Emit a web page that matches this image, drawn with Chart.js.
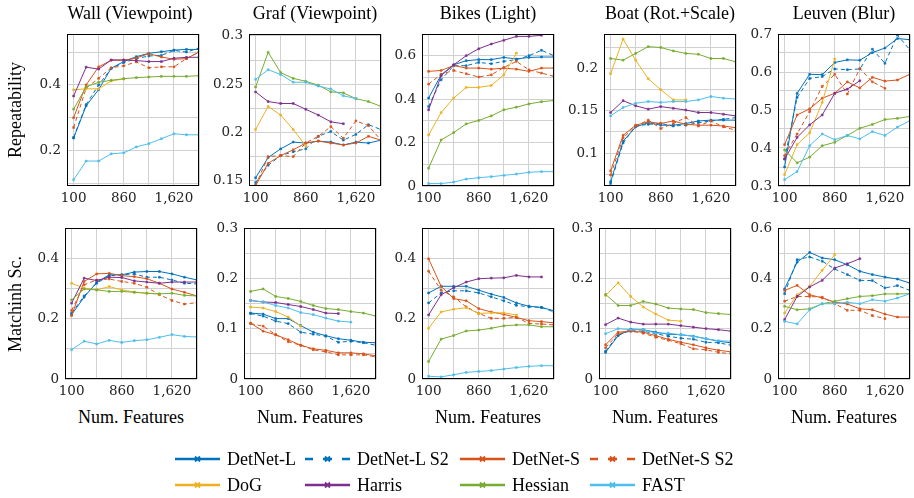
<!DOCTYPE html>
<html>
<head>
<meta charset="utf-8">
<script src="https://cdn.jsdelivr.net/npm/chart.js@4.4.1/dist/chart.umd.min.js"></script>
<style>
  html, body { margin: 0; padding: 0; background: #fff; }
  body { width: 914px; height: 498px; position: relative; overflow: hidden; font-family: "Liberation Serif", serif; color: #000; }
  canvas { position: absolute; }
  .txt { position: absolute; white-space: nowrap; font-size: 18px; line-height: 1; }
  .rot { transform: translate(-50%, -50%) rotate(-90deg); }
  .ctr { transform: translate(-50%, -50%); }
  .leg { position: absolute; display: flex; align-items: center; font-size: 18px; line-height: 1; white-space: nowrap; }
  .leg svg { margin-right: 7px; }
</style>
</head>
<body>
<script>
// x values (number of features) shared by every panel
const numFeatures = [100, 290, 480, 670, 860, 1050, 1240, 1430, 1620, 1810, 2000];
const xGrid = [100, 480, 860, 1240, 1620, 2000];
const xLabels = [100, 860, 1620];

const methods = ["DetNet-L", "DetNet-L S2", "DetNet-S", "DetNet-S S2", "DoG", "Harris", "Hessian", "FAST"];
const sequences = ["Wall (Viewpoint)", "Graf (Viewpoint)", "Bikes (Light)", "Boat (Rot.+Scale)", "Leuven (Blur)"];
const rowTitles = ["Repeatability", "Matchinh Sc."];

// repeatability -- one list per method, in the order of `methods`
const repWall = [
  [0.238, 0.336, 0.386, 0.451, 0.471, 0.486, 0.496, 0.501, 0.506, 0.508, 0.508],
  [0.24, 0.34, 0.40, 0.45, 0.468, 0.48, 0.488, 0.49, 0.505, 0.50, 0.512],
  [0.30, 0.40, 0.455, 0.475, 0.475, 0.482, 0.495, 0.485, 0.478, 0.48, 0.50],
  [0.27, 0.39, 0.42, 0.452, 0.458, 0.47, 0.452, 0.455, 0.455, 0.48, 0.50],
  [0.385, 0.388, 0.388, 0.412, 0.418],
  [0.366, 0.454, 0.448, 0.476, 0.476, 0.474, 0.471, 0.471, 0.481, 0.484, 0.484],
  [0.326, 0.394, 0.408, 0.414, 0.419, 0.422, 0.424, 0.426, 0.426, 0.426, 0.428],
  [0.111, 0.168, 0.168, 0.19, 0.193, 0.211, 0.221, 0.236, 0.251, 0.248, 0.248]
];
const repGraf = [
  [0.153, 0.174, 0.183, 0.190, 0.189, 0.191, 0.190, 0.187, 0.190, 0.189, 0.192],
  [0.148, 0.166, 0.176, 0.180, 0.183, 0.196, 0.201, 0.192, 0.198, 0.208, 0.203],
  [0.145, 0.168, 0.176, 0.182, 0.189, 0.191, 0.189, 0.187, 0.189, 0.196, 0.192],
  [0.145, 0.175, 0.176, 0.175, 0.189, 0.196, 0.206, 0.194, 0.212, 0.207, 0.192],
  [0.203, 0.227, 0.218, 0.203, 0.186],
  [0.242, 0.232, 0.230, 0.230, 0.224, 0.218, 0.211, 0.209],
  [0.247, 0.283, 0.262, 0.256, 0.253, 0.249, 0.242, 0.241, 0.235, 0.232, 0.227],
  [0.255, 0.265, 0.260, 0.252, 0.252, 0.248, 0.245, 0.238, 0.235]
];
const repBikes = [
  [0.405, 0.512, 0.558, 0.577, 0.582, 0.582, 0.592, 0.585, 0.592, 0.594, 0.594],
  [0.366, 0.489, 0.554, 0.554, 0.569, 0.563, 0.574, 0.582, 0.600, 0.625, 0.600],
  [0.528, 0.532, 0.555, 0.543, 0.543, 0.538, 0.543, 0.538, 0.528, 0.543, 0.543],
  [0.469, 0.515, 0.532, 0.517, 0.502, 0.512, 0.546, 0.574, 0.535, 0.52, 0.505],
  [0.235, 0.338, 0.405, 0.454, 0.454, 0.463, 0.512, 0.612],
  [0.351, 0.508, 0.558, 0.600, 0.632, 0.654, 0.671, 0.689, 0.689, 0.694],
  [0.082, 0.212, 0.246, 0.286, 0.302, 0.323, 0.351, 0.363, 0.378, 0.388, 0.394],
  [0.011, 0.011, 0.018, 0.032, 0.038, 0.043, 0.049, 0.055, 0.063, 0.066, 0.066]
];
const repBoat = [
  [0.066, 0.114, 0.131, 0.136, 0.133, 0.133, 0.135, 0.138, 0.139, 0.139, 0.139],
  [0.064, 0.112, 0.132, 0.134, 0.135, 0.132, 0.133, 0.136, 0.138, 0.140, 0.142],
  [0.079, 0.121, 0.133, 0.137, 0.135, 0.138, 0.134, 0.133, 0.133, 0.132, 0.130],
  [0.074, 0.118, 0.132, 0.139, 0.129, 0.135, 0.142, 0.132, 0.138, 0.131, 0.127],
  [0.194, 0.235, 0.210, 0.188, 0.175, 0.163, 0.163],
  [0.148, 0.162, 0.156, 0.152, 0.155, 0.153, 0.151, 0.148, 0.148, 0.146, 0.144],
  [0.212, 0.210, 0.218, 0.226, 0.225, 0.221, 0.218, 0.217, 0.212, 0.212, 0.208],
  [0.144, 0.154, 0.159, 0.161, 0.160, 0.161, 0.161, 0.163, 0.167, 0.165, 0.164]
];
const repLeuven = [
  [0.350, 0.544, 0.594, 0.593, 0.625, 0.632, 0.631, 0.651, 0.663, 0.688, 0.685],
  [0.371, 0.533, 0.583, 0.588, 0.608, 0.606, 0.608, 0.660, 0.623, 0.697, 0.658],
  [0.409, 0.487, 0.503, 0.531, 0.544, 0.574, 0.558, 0.586, 0.576, 0.579, 0.594],
  [0.380, 0.437, 0.496, 0.562, 0.594, 0.542, 0.609, 0.574, 0.557],
  [0.330, 0.409, 0.440, 0.520, 0.634],
  [0.371, 0.428, 0.461, 0.487, 0.544, 0.555, 0.577],
  [0.395, 0.361, 0.376, 0.406, 0.415, 0.433, 0.452, 0.462, 0.475, 0.478, 0.483],
  [0.317, 0.338, 0.406, 0.437, 0.422, 0.433, 0.424, 0.443, 0.433, 0.455, 0.472]
];

// matching score
const matchWall = [
  [0.213, 0.271, 0.320, 0.345, 0.345, 0.354, 0.356, 0.356, 0.348, 0.337, 0.328],
  [0.218, 0.275, 0.317, 0.342, 0.345, 0.348, 0.337, 0.337, 0.328, 0.317, 0.315],
  [0.21, 0.323, 0.348, 0.350, 0.342, 0.339, 0.332, 0.317, 0.298, 0.287, 0.275],
  [0.227, 0.312, 0.328, 0.331, 0.323, 0.317, 0.304, 0.279, 0.260, 0.248, 0.253],
  [0.317, 0.301, 0.295, 0.306, 0.295, 0.288, 0.284, 0.281],
  [0.251, 0.334, 0.326, 0.337, 0.336, 0.325, 0.321, 0.317, 0.321, 0.321, 0.321],
  [0.262, 0.298, 0.295, 0.290, 0.290, 0.287, 0.284, 0.282, 0.284, 0.277, 0.275],
  [0.097, 0.125, 0.116, 0.128, 0.121, 0.127, 0.130, 0.138, 0.147, 0.141, 0.139]
];
const matchGraf = [
  [0.131, 0.129, 0.120, 0.120, 0.106, 0.093, 0.086, 0.080, 0.077, 0.073, 0.072],
  [0.130, 0.125, 0.115, 0.110, 0.093, 0.089, 0.085, 0.073, 0.075, 0.072, 0.067],
  [0.111, 0.095, 0.088, 0.078, 0.067, 0.060, 0.057, 0.052, 0.052, 0.050, 0.046],
  [0.110, 0.105, 0.088, 0.074, 0.067, 0.058, 0.054, 0.048, 0.048, 0.048, 0.044],
  [0.143, 0.141, 0.134, 0.123, 0.105],
  [0.156, 0.153, 0.152, 0.148, 0.144, 0.138, 0.131, 0.130],
  [0.174, 0.179, 0.164, 0.160, 0.154, 0.146, 0.140, 0.138, 0.134, 0.131, 0.125],
  [0.156, 0.153, 0.146, 0.141, 0.132, 0.128, 0.121, 0.115, 0.113]
];
const matchBikes = [
  [0.285, 0.307, 0.307, 0.307, 0.294, 0.281, 0.270, 0.252, 0.241, 0.237, 0.226],
  [0.252, 0.285, 0.292, 0.292, 0.285, 0.272, 0.259, 0.244, 0.239, 0.237, 0.222],
  [0.398, 0.307, 0.266, 0.259, 0.233, 0.222, 0.214, 0.204, 0.193, 0.190, 0.186],
  [0.357, 0.294, 0.272, 0.239, 0.217, 0.201, 0.201, 0.204, 0.184, 0.182, 0.179],
  [0.168, 0.222, 0.231, 0.236, 0.217, 0.219, 0.219, 0.212],
  [0.212, 0.279, 0.302, 0.321, 0.332, 0.334, 0.335, 0.343, 0.338, 0.338],
  [0.058, 0.132, 0.144, 0.159, 0.162, 0.168, 0.176, 0.179, 0.179, 0.173, 0.173],
  [0.009, 0.007, 0.014, 0.022, 0.025, 0.028, 0.033, 0.038, 0.042, 0.044, 0.044]
];
const matchBoat = [
  [0.053, 0.086, 0.099, 0.098, 0.093, 0.089, 0.088, 0.085, 0.080, 0.075, 0.072],
  [0.055, 0.088, 0.096, 0.095, 0.090, 0.085, 0.081, 0.079, 0.073, 0.072, 0.067],
  [0.068, 0.093, 0.095, 0.093, 0.086, 0.079, 0.073, 0.068, 0.062, 0.057, 0.054],
  [0.062, 0.090, 0.095, 0.091, 0.083, 0.077, 0.070, 0.060, 0.058, 0.053, 0.050],
  [0.166, 0.191, 0.164, 0.143, 0.129, 0.117, 0.115],
  [0.108, 0.121, 0.113, 0.109, 0.109, 0.109, 0.106, 0.103, 0.100, 0.098, 0.095],
  [0.168, 0.146, 0.146, 0.154, 0.149, 0.141, 0.139, 0.138, 0.132, 0.130, 0.128],
  [0.090, 0.100, 0.098, 0.098, 0.091, 0.091, 0.088, 0.085, 0.080, 0.076, 0.075]
];
const matchLeuven = [
  [0.358, 0.464, 0.503, 0.481, 0.474, 0.454, 0.428, 0.415, 0.405, 0.397, 0.381],
  [0.339, 0.474, 0.485, 0.468, 0.437, 0.415, 0.392, 0.391, 0.362, 0.371, 0.352],
  [0.352, 0.372, 0.335, 0.322, 0.306, 0.298, 0.279, 0.275, 0.258, 0.246, 0.246],
  [0.309, 0.328, 0.328, 0.325, 0.299, 0.273, 0.273, 0.252, 0.240],
  [0.262, 0.335, 0.368, 0.432, 0.494],
  [0.236, 0.328, 0.366, 0.392, 0.441, 0.458, 0.478],
  [0.289, 0.275, 0.279, 0.299, 0.309, 0.319, 0.328, 0.331, 0.338, 0.338, 0.339],
  [0.229, 0.219, 0.275, 0.299, 0.299, 0.305, 0.299, 0.315, 0.309, 0.322, 0.339]
];

// y axes: range, grid step, labelled ticks
const repRange = [[0.092, 0.555], [0.1445, 0.302], [0, 0.7], [0.061, 0.241], [0.3, 0.7]];
const repStep = [0.1, 0.025, 0.1, 0.025, 0.05];
const repTicks = [[0.2, 0.4], [0.15, 0.2, 0.25, 0.3], [0, 0.2, 0.4, 0.6], [0.1, 0.15, 0.2], [0.3, 0.4, 0.5, 0.6, 0.7]];
const matchRange = [[0, 0.5], [0, 0.3], [0, 0.5], [0, 0.3], [0, 0.6]];
const matchStep = [0.1, 0.05, 0.1, 0.05, 0.1];
const matchTicks = [[0, 0.2, 0.4], [0, 0.1, 0.2, 0.3], [0, 0.2, 0.4], [0, 0.1, 0.2, 0.3], [0, 0.2, 0.4, 0.6]];

const repData = [repWall, repGraf, repBikes, repBoat, repLeuven];
const matchData = [matchWall, matchGraf, matchBikes, matchBoat, matchLeuven];

// look
const colors = ["#0072BD", "#0072BD", "#D95319", "#D95319", "#EDB120", "#7E2F8E", "#77AC30", "#4DBEEE"];
const dashed = [false, true, false, true, false, false, false, false];
const tickFont = { family: "DejaVu Serif", size: 13.5 };

// plot boxes (px)
const boxLeft = [[67, 249, 422, 604, 778], [65, 244, 422, 599, 778]];
const boxTop = [34, 228];
const boxH = [152, 151];
const boxW = 132;
const padL = 50, padT = 12, padR = 24, axisH = 26;

function fmt(v) {
  return Number(v.toFixed(3)).toLocaleString("en-US");
}

// frame round the plot area
const frame = {
  id: "frame",
  afterDatasetsDraw(chart) {
    const { ctx, chartArea: { left, top, right, bottom } } = chart;
    ctx.save();
    ctx.strokeStyle = "#000";
    ctx.lineWidth = 1;
    ctx.strokeRect(left + 0.5, top + 0.5, right - left - 1, bottom - top - 1);
    ctx.restore();
  }
};

function makePanel(row, col) {
  const series = row === 0 ? repData[col] : matchData[col];
  const range = row === 0 ? repRange[col] : matchRange[col];
  const step = row === 0 ? repStep[col] : matchStep[col];
  const labelled = row === 0 ? repTicks[col] : matchTicks[col];

  const cv = document.createElement("canvas");
  cv.width = padL + boxW + padR;
  cv.height = padT + boxH[row] + axisH;
  cv.style.left = (boxLeft[row][col] - padL) + "px";
  cv.style.top = (boxTop[row] - padT) + "px";
  document.body.appendChild(cv);

  const datasets = series.map((vals, i) => ({
    label: methods[i],
    data: vals.map((v, k) => ({ x: numFeatures[k], y: v })),
    borderColor: colors[i],
    backgroundColor: colors[i],
    borderWidth: 1,
    borderDash: dashed[i] ? [4, 3] : [],
    pointStyle: "rect",
    pointRadius: 1.3,
    pointBorderWidth: 0.6,
    tension: 0,
    order: 7 - i
  }));

  const yGrid = [];
  for (let v = Math.ceil(range[0] / step - 1e-6) * step; v <= range[1] + 1e-9; v += step) {
    yGrid.push(Number(v.toFixed(4)));
  }

  new Chart(cv, {
    type: "line",
    data: { datasets },
    options: {
      responsive: false,
      animation: false,
      layout: { padding: { left: 0, top: padT, right: padR, bottom: 0 } },
      plugins: { legend: { display: false }, tooltip: { enabled: false } },
      scales: {
        x: {
          type: "linear",
          min: 0,
          max: 2000,
          bounds: "data",
          grid: { color: "#d0d0d0", lineWidth: 1, drawTicks: false },
          border: { display: false },
          ticks: {
            autoSkip: false,
            maxRotation: 0,
            padding: 4,
            color: "#222",
            font: tickFont,
            callback: (v) => (xLabels.includes(v) ? fmt(v) : "")
          },
          afterBuildTicks: (s) => { s.ticks = xGrid.map((v) => ({ value: v })); },
          afterFit: (s) => { s.height = axisH; s.paddingLeft = 0; s.paddingRight = 0; }
        },
        y: {
          min: range[0],
          max: range[1],
          bounds: "data",
          grid: { color: "#d0d0d0", lineWidth: 1, drawTicks: false },
          border: { display: false },
          ticks: {
            autoSkip: false,
            padding: 6,
            color: "#222",
            font: tickFont,
            callback: (v) => (labelled.some((t) => Math.abs(t - v) < 1e-6) ? fmt(v) : "")
          },
          afterBuildTicks: (s) => { s.ticks = yGrid.map((v) => ({ value: v })); },
          afterFit: (s) => { s.width = padL; s.paddingTop = 0; s.paddingBottom = 0; }
        }
      }
    },
    plugins: [frame]
  });
}

function addText(str, x, y, cls) {
  const d = document.createElement("div");
  d.className = "txt " + cls;
  d.style.left = x + "px";
  d.style.top = y + "px";
  d.textContent = str;
  document.body.appendChild(d);
}

for (let r = 0; r < 2; r++) {
  for (let c = 0; c < 5; c++) makePanel(r, c);
}

// titles and axis labels
sequences.forEach((s, c) => addText(s, boxLeft[0][c] + boxW / 2 - (c === 0 ? 3 : 0), 13, "ctr"));
addText(rowTitles[0], 15, boxTop[0] + boxH[0] / 2, "rot");
addText(rowTitles[1], 15, boxTop[1] + boxH[1] / 2, "rot");
for (let c = 0; c < 5; c++) addText("Num. Features", boxLeft[1][c] + boxW / 2, 417, "ctr");

// legend
const legCols = [175, 305, 460, 590];
const legRows = [459, 485];
methods.forEach((m, i) => {
  const col = i < 4 ? i : i - 4;
  const row = i < 4 ? 0 : 1;
  const d = document.createElement("div");
  d.className = "leg";
  d.style.left = legCols[col] + "px";
  d.style.top = (legRows[row] - 10) + "px";
  d.style.height = "20px";
  const dash = dashed[i] ? ' stroke-dasharray="8 10 9 10 8"' : "";
  d.innerHTML =
    '<svg width="45" height="10" viewBox="0 0 45 10">' +
    '<line x1="0" y1="5" x2="45" y2="5" stroke="' + colors[i] + '" stroke-width="2.4"' + dash + '/>' +
    '<path d="M20 2.5 L25 7.5 M25 2.5 L20 7.5" stroke="' + colors[i] + '" stroke-width="1.8"/>' +
    "</svg><span>" + m + "</span>";
  document.body.appendChild(d);
});
</script>
</body>
</html>
